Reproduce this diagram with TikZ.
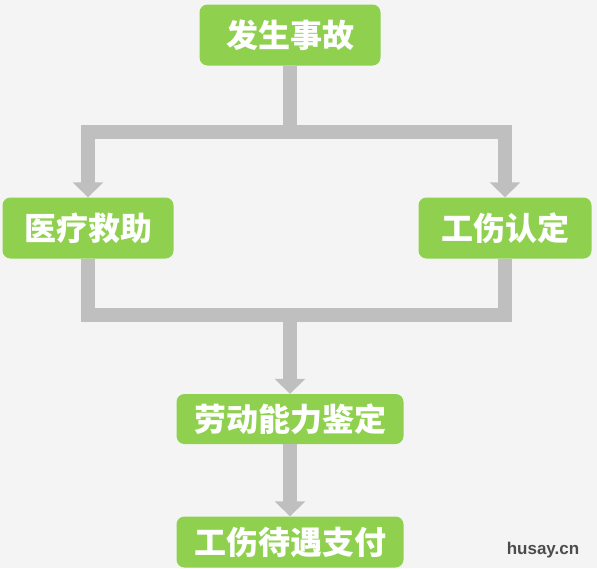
\documentclass[tikz,border=0pt]{standalone}
\usepackage{fontspec}
\setmainfont{Liberation Sans}
\newfontfamily\cjk{Noto Sans CJK SC}
\usetikzlibrary{arrows.meta}
\definecolor{vert}{HTML}{8FD14F}
\definecolor{gris}{HTML}{BFBFBF}
\definecolor{fond}{HTML}{F4F4F4}
\tikzset{
  boite/.style={fill=vert, rounded corners=8pt, text=white, inner sep=0pt,
    font=\cjk\bfseries\fontsize{32}{36}\selectfont},
  tuyau/.style={draw=gris, line width=14pt},
  fleche/.style={tuyau, -{Triangle[width=30pt,length=15pt]}}
}

\begin{document}
\begin{tikzpicture}[x=1pt,y=-1pt]
    % fond gris
    \fill[fond] (0,0) rectangle (597,568);
    \useasboundingbox (0,0) rectangle (597,568);
    % boites
    \node[boite, minimum width=181pt, minimum height=61pt] (accident) at (290,35) {发生事故};
    \node[boite, minimum width=171pt, minimum height=61pt] (soins) at (88,228) {医疗救助};
    \node[boite, minimum width=173pt, minimum height=61pt] (constat) at (505,228) {工伤认定};
    \node[boite, minimum width=227pt, minimum height=50pt] (expertise) at (290,419) {劳动能力鉴定};
    \node[boite, minimum width=227pt, minimum height=51pt] (paiement) at (290,542) {工伤待遇支付};
    \coordinate (split) at (290,132);
    \coordinate (merge) at (290,315);
    % liaisons
    \draw[tuyau] (accident.south) -- (split);
    \draw[fleche] (split) -| (soins.north);
    \draw[fleche] (split) -| (constat.north);
    \draw[tuyau] (soins.south) |- (merge) -| (constat.south);
    \draw[fleche] (merge) -- (expertise.north);
    \draw[fleche] (expertise.south) -- (paiement.north);
    % filigrane
    \node[text=black!70, font=\bfseries\fontsize{17}{17}\selectfont] (filigrane) at (543,550) {husay.cn};
\end{tikzpicture}
\end{document}
